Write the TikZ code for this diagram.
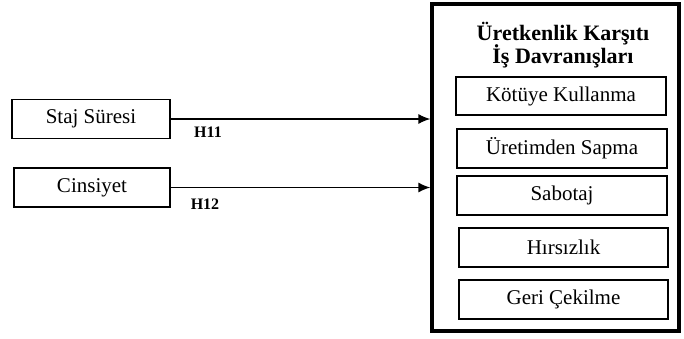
\documentclass[tikz,border=0pt]{standalone}
\usepackage{fontspec}
\setmainfont{Liberation Serif}
\usetikzlibrary{arrows.meta}
\tikzset{
  varbox/.style={draw, line width=1.6pt, minimum height=39pt, inner sep=0pt, font=\fontsize{21}{25}\selectfont},
  hyplabel/.style={font=\bfseries\fontsize{16}{18}\selectfont, inner sep=0pt},
  hyparrow/.style={line width=1.5pt, -{Latex[length=12pt,width=10pt]}}
}
\begin{document}
\begin{tikzpicture}[x=1pt,y=-1pt]
    \useasboundingbox (0,0) rectangle (684,338);

    % Independent variables
    \node[varbox, minimum width=158pt] (staj) at (91,119) {Staj Süresi};
    \node[varbox, minimum width=156pt] (cins) at (92,187.5) {Cinsiyet};

    % Outer frame of the dependent variable
    \node[draw, line width=3.2pt, minimum width=247pt, minimum height=327pt, inner sep=0pt] (frame) at (555.5,167.5) {};
    \node[font=\bfseries\fontsize{22}{23}\selectfont, align=center] (title) at (563,45) {Üretkenlik Karşıtı\\[-1pt]İş Davranışları};

    % Sub-dimensions
    \node[varbox, minimum width=210pt, minimum height=38pt] (kotuye) at (561,96) {Kötüye Kullanma};
    \node[varbox, minimum width=210pt] (sapma) at (562,148.5) {Üretimden Sapma};
    \node[varbox, minimum width=210pt] (sabotaj) at (562,195.5) {Sabotaj};
    \node[varbox, minimum width=209pt] (hirsiz) at (563.5,247.5) {Hırsızlık};
    \node[varbox, minimum width=209pt] (geri) at (563.5,299.5) {Geri Çekilme};

    % Hypotheses
    \draw[hyparrow] (staj.east) -- (frame.west |- staj.east);
    \draw[hyparrow] (cins.east) -- (frame.west |- cins.east);
    \node[hyplabel] (h11) at (208,132) {H11};
    \node[hyplabel] (h12) at (205,204) {H12};
\end{tikzpicture}
\end{document}
